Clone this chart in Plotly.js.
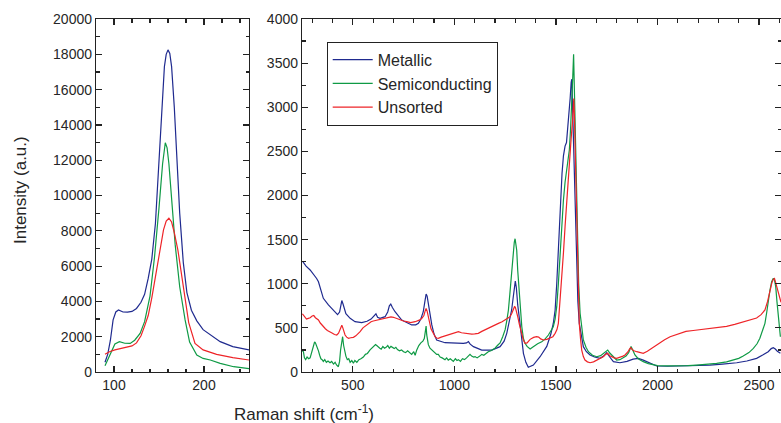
<!DOCTYPE html>
<html>
<head>
<meta charset="utf-8">
<script src="https://cdn.plot.ly/plotly-3.0.1.min.js"></script>
<style>html,body{margin:0;padding:0;background:#fff;}#chart{width:781px;height:423px;}</style>
</head>
<body>
<div id="chart"></div>
<script>
// ---- Left panel (RBM region) ----
const rbmMetallicX = [90, 93, 96, 99, 102, 105, 110, 115, 120, 125, 130, 134, 138, 142, 146, 149, 153, 156, 158, 160, 162, 164, 167, 170, 173, 177, 181, 186, 192, 199, 207, 218, 232, 242, 250];
const rbmMetallicY = [550, 1000, 1800, 2950, 3400, 3510, 3400, 3390, 3430, 3600, 3950, 4400, 5300, 6400, 8400, 11000, 14700, 17300, 18000, 18250, 18050, 17300, 15000, 12000, 9000, 6200, 4500, 3500, 2900, 2400, 2100, 1720, 1440, 1330, 1250];

const rbmSemiX = [90, 93, 96, 101, 106, 112, 118, 123, 129, 134, 140, 145, 150, 154, 157, 159, 161, 164, 168, 173, 179, 184, 192, 199, 207, 218, 233, 250];
const rbmSemiY = [350, 700, 1100, 1590, 1720, 1630, 1620, 1800, 2190, 2850, 4300, 6500, 9300, 11800, 12990, 12700, 11800, 9740, 7200, 4830, 2950, 1700, 960, 770, 680, 490, 300, 190];

const rbmUnsortedX = [90, 95, 101, 108, 114, 120, 125, 130, 134, 138, 142, 146, 150, 155, 158, 161, 164, 167, 171, 175, 179, 183, 190, 199, 214, 232, 250];
const rbmUnsortedY = [1000, 1150, 1250, 1320, 1380, 1480, 1650, 2050, 2600, 3200, 4200, 5400, 6700, 8050, 8550, 8710, 8500, 7900, 6910, 5500, 4000, 2800, 1620, 1250, 1000, 810, 680];

// ---- Right panel (250 - 2600 cm-1) ----
const metallicX = [254, 270, 290, 305, 314, 322, 331, 343, 355, 380, 405, 425, 435, 440, 446, 452, 460, 466, 487, 511, 544, 570, 590, 605, 614, 622, 634, 659, 672, 680, 687, 695, 708, 741, 790, 810, 823, 835, 847, 855, 861, 866, 872, 880, 889, 900, 913, 954, 1003, 1044, 1060, 1069, 1078, 1094, 1135, 1184, 1225, 1245, 1258, 1270, 1282, 1290, 1296, 1300, 1305, 1312, 1323, 1332, 1340, 1352, 1364, 1389, 1422, 1455, 1475, 1487, 1496, 1504, 1512, 1520, 1530, 1537, 1545, 1552, 1561, 1570, 1575, 1578, 1582, 1586, 1590, 1594, 1602, 1608, 1615, 1625, 1635, 1650, 1668, 1690, 1717, 1735, 1750, 1765, 1783, 1815, 1850, 1880, 1906, 1930, 1947, 1970, 1996, 2050, 2094, 2150, 2200, 2258, 2320, 2390, 2440, 2488, 2520, 2545, 2560, 2570, 2580, 2590, 2605];
const metallicY = [1250, 1200, 1156, 1110, 1090, 1060, 1023, 920, 835, 760, 703, 650, 680, 760, 810, 770, 700, 660, 608, 570, 559, 575, 600, 640, 660, 620, 608, 627, 680, 750, 770, 730, 683, 589, 533, 535, 551, 600, 683, 800, 884, 860, 778, 650, 533, 430, 363, 332, 325, 325, 330, 345, 315, 287, 249, 249, 287, 350, 438, 560, 703, 850, 980, 1030, 960, 760, 551, 380, 212, 110, 53, 79, 173, 290, 430, 550, 700, 1000, 1400, 1873, 2250, 2450, 2560, 2600, 2818, 3100, 3280, 3320, 3000, 2629, 2250, 1873, 1118, 800, 551, 400, 287, 230, 193, 170, 155, 180, 219, 170, 117, 105, 120, 145, 155, 135, 117, 90, 68, 65, 68, 70, 75, 79, 90, 105, 125, 155, 195, 230, 265, 276, 260, 235, 212];

const semiX = [252, 257, 262, 268, 275, 283, 290, 298, 306, 312, 316, 320, 326, 331, 337, 343, 349, 355, 362, 370, 378, 388, 396, 405, 413, 420, 429, 435, 440, 445, 450, 455, 460, 466, 473, 480, 487, 495, 503, 510, 520, 530, 540, 552, 562, 572, 585, 595, 605, 612, 618, 625, 633, 640, 648, 656, 664, 672, 680, 688, 696, 704, 712, 720, 730, 740, 750, 760, 770, 780, 790, 800, 807, 815, 825, 835, 845, 852, 857, 861, 864, 868, 872, 880, 889, 898, 905, 913, 921, 930, 940, 954, 962, 970, 980, 987, 995, 1005, 1013, 1020, 1030, 1040, 1050, 1060, 1070, 1077, 1085, 1095, 1102, 1112, 1125, 1135, 1145, 1157, 1167, 1180, 1192, 1200, 1212, 1225, 1238, 1250, 1258, 1266, 1273, 1279, 1285, 1290, 1295, 1299, 1303, 1307, 1312, 1318, 1325, 1332, 1340, 1348, 1358, 1373, 1385, 1397, 1410, 1430, 1445, 1463, 1475, 1487, 1496, 1504, 1512, 1520, 1528, 1537, 1545, 1553, 1560, 1566, 1572, 1578, 1583, 1587, 1590, 1593, 1596, 1600, 1605, 1612, 1619, 1627, 1635, 1648, 1660, 1680, 1701, 1720, 1742, 1755, 1765, 1775, 1787, 1799, 1815, 1830, 1845, 1858, 1865, 1870, 1878, 1889, 1905, 1930, 1955, 1979, 2000, 2050, 2094, 2150, 2193, 2250, 2291, 2340, 2373, 2400, 2422, 2450, 2472, 2490, 2504, 2517, 2529, 2538, 2545, 2553, 2562, 2570, 2576, 2582, 2588, 2594, 2600, 2605];
const semiY = [240, 230, 160, 140, 170, 150, 160, 230, 300, 340, 330, 310, 270, 240, 190, 150, 140, 120, 140, 110, 125, 105, 120, 90, 110, 80, 60, 120, 250, 360, 400, 300, 230, 180, 140, 150, 110, 130, 100, 130, 110, 140, 150, 170, 200, 210, 250, 270, 290, 310, 300, 280, 270, 260, 290, 270, 280, 300, 270, 290, 280, 265, 280, 255, 240, 250, 230, 220, 240, 215, 200, 230, 190, 250, 300, 330, 350, 380, 450, 520, 420, 330, 310, 270, 250, 240, 220, 200, 200, 170, 160, 140, 160, 135, 150, 140, 120, 150, 130, 140, 120, 150, 140, 160, 190, 200, 180, 170, 175, 160, 180, 200, 190, 215, 230, 240, 255, 270, 300, 330, 400, 480, 580, 700, 880, 1040, 1250, 1380, 1470, 1510, 1460, 1380, 1150, 929, 700, 513, 380, 325, 290, 260, 280, 300, 320, 343, 370, 419, 460, 513, 600, 740, 1000, 1307, 1650, 1949, 2150, 2289, 2400, 2516, 2750, 3006, 3350, 3600, 3300, 2900, 2629, 2000, 1496, 1000, 665, 470, 363, 280, 230, 190, 173, 185, 230, 249, 215, 193, 160, 136, 140, 160, 180, 220, 270, 290, 250, 193, 150, 117, 95, 79, 72, 70, 68, 72, 79, 88, 98, 115, 136, 155, 181, 220, 268, 320, 382, 460, 551, 680, 816, 920, 1023, 1062, 1040, 967, 800, 627, 480, 400];

const unsortedX = [252, 257, 265, 272, 281, 290, 300, 308, 316, 324, 331, 340, 348, 355, 365, 375, 388, 400, 410, 421, 430, 437, 441, 446, 451, 456, 462, 470, 479, 490, 503, 515, 526, 536, 550, 560, 569, 580, 590, 601, 615, 630, 643, 660, 675, 688, 700, 715, 733, 750, 766, 785, 807, 820, 830, 840, 850, 856, 861, 866, 872, 877, 885, 897, 905, 913, 921, 935, 954, 970, 987, 1000, 1010, 1020, 1035, 1053, 1070, 1086, 1100, 1118, 1135, 1151, 1170, 1184, 1200, 1217, 1235, 1250, 1262, 1274, 1282, 1290, 1296, 1300, 1306, 1312, 1320, 1327, 1332, 1340, 1348, 1358, 1373, 1390, 1405, 1415, 1425, 1438, 1455, 1471, 1485, 1496, 1505, 1512, 1520, 1529, 1537, 1545, 1553, 1561, 1569, 1575, 1581, 1585, 1588, 1591, 1594, 1598, 1601, 1605, 1610, 1615, 1621, 1627, 1635, 1643, 1655, 1668, 1685, 1701, 1718, 1733, 1745, 1755, 1765, 1775, 1787, 1799, 1815, 1830, 1840, 1855, 1862, 1868, 1875, 1884, 1898, 1915, 1930, 1950, 1971, 1990, 2012, 2035, 2062, 2085, 2111, 2140, 2176, 2220, 2258, 2300, 2340, 2380, 2422, 2455, 2488, 2510, 2529, 2542, 2554, 2563, 2570, 2576, 2582, 2587, 2595, 2603, 2608];
const unsortedY = [660, 646, 620, 600, 608, 615, 635, 640, 615, 600, 589, 555, 530, 513, 490, 470, 457, 440, 425, 419, 440, 480, 510, 530, 500, 450, 419, 395, 382, 388, 393, 410, 430, 457, 500, 520, 533, 555, 570, 578, 585, 590, 597, 608, 620, 625, 620, 605, 589, 578, 570, 560, 570, 580, 590, 608, 640, 690, 720, 690, 620, 551, 490, 438, 400, 385, 382, 395, 408, 425, 438, 445, 450, 457, 445, 438, 432, 430, 432, 438, 460, 476, 500, 513, 530, 551, 570, 589, 605, 627, 660, 710, 740, 735, 690, 627, 540, 470, 438, 360, 325, 330, 370, 392, 400, 395, 375, 363, 370, 382, 400, 438, 480, 551, 780, 1042, 1350, 1647, 1950, 2251, 2478, 2650, 2818, 2950, 3100, 2900, 2600, 2251, 1800, 1307, 900, 551, 380, 249, 175, 136, 115, 105, 115, 136, 155, 173, 200, 212, 185, 173, 160, 155, 165, 180, 193, 230, 260, 275, 255, 240, 230, 220, 212, 235, 268, 295, 325, 365, 400, 420, 440, 460, 470, 482, 495, 505, 518, 540, 570, 590, 612, 650, 703, 800, 929, 1010, 1050, 1060, 1010, 967, 880, 816, 790];

const seriesNames = ['Metallic', 'Semiconducting', 'Unsorted'];
const colors = ['#1f2a8f', '#0f9a45', '#ee2428'];

const FONT = 'Liberation Sans, Arial, sans-serif';
const lw = 1.2;

function tr(x, y, i, right) {
  return {
    x: x, y: y, type: 'scatter', mode: 'lines',
    name: seriesNames[i],
    line: {color: colors[i], width: lw},
    xaxis: right ? 'x2' : 'x', yaxis: right ? 'y2' : 'y',
    showlegend: !!right, hoverinfo: 'skip'
  };
}

const data = [
  tr(rbmMetallicX, rbmMetallicY, 0, false),
  tr(rbmSemiX, rbmSemiY, 1, false),
  tr(rbmUnsortedX, rbmUnsortedY, 2, false),
  tr(metallicX, metallicY, 0, true),
  tr(semiX, semiY, 1, true),
  tr(unsortedX, unsortedY, 2, true)
];

const axisColor = '#222';
function ax(extra) {
  return Object.assign({
    showline: true, linecolor: axisColor, linewidth: 1.2, mirror: 'ticks',
    ticks: 'inside', ticklen: 6, tickwidth: 1.2, tickcolor: axisColor,
    showgrid: false, zeroline: false, exponentformat: 'none', separatethousands: false,
    tickformat: 'd',
    tickfont: {family: FONT, size: 14, color: '#262626'}
  }, extra);
}

const W = 781, H = 423;
const layout = {
  width: W, height: H,
  margin: {l: 0, r: 0, t: 19, b: 51, pad: 0},
  paper_bgcolor: '#fff', plot_bgcolor: '#fff',
  font: {family: FONT, color: '#262626'},
  xaxis: ax({domain: [96 / W, 249 / W], range: [80, 250], anchor: 'y', tick0: 0, dtick: 100,
    minor: {dtick: 20, ticklen: 3.5, ticks: 'inside', tickcolor: axisColor, tickwidth: 1.2}}),
  yaxis: ax({domain: [0, 1], range: [0, 20000], anchor: 'x', tick0: 0, dtick: 2000,
    minor: {dtick: 1000, ticklen: 3.5, ticks: 'inside', tickcolor: axisColor, tickwidth: 1.2}}),
  xaxis2: ax({domain: [302 / W, 1], range: [250, 2608], anchor: 'y2', tick0: 0, dtick: 500,
    minor: {dtick: 100, ticklen: 3.5, ticks: 'inside', tickcolor: axisColor, tickwidth: 1.2}}),
  yaxis2: ax({domain: [0, 1], range: [0, 4000], anchor: 'x2', tick0: 0, dtick: 500,
    minor: {dtick: 250, ticklen: 3.5, ticks: 'inside', tickcolor: axisColor, tickwidth: 1.2}}),
  showlegend: true,
  legend: {
    x: 326.7 / W, y: 1 - (41.7 - 19) / 353, xanchor: 'left', yanchor: 'top',
    bgcolor: '#fff', bordercolor: axisColor, borderwidth: 1, itemwidth: 40,
    font: {family: FONT, size: 16, color: '#262626'}, tracegroupgap: 0
  },
  annotations: [
    {text: 'Intensity (a.u.)', xref: 'paper', yref: 'paper', x: 20 / W, y: 1 - (190 - 19) / 353,
      xanchor: 'center', yanchor: 'middle', textangle: -90, showarrow: false,
      font: {family: FONT, size: 17, color: '#262626'}},
    {text: 'Raman shift (cm<sup>-1</sup>)', xref: 'paper', yref: 'paper', x: 304 / W, y: -(413 - 372) / 353,
      xanchor: 'center', yanchor: 'middle', showarrow: false,
      font: {family: FONT, size: 17, color: '#262626'}}
  ]
};

Plotly.newPlot('chart', data, layout, {staticPlot: true, displayModeBar: false});
</script>
</body>
</html>
